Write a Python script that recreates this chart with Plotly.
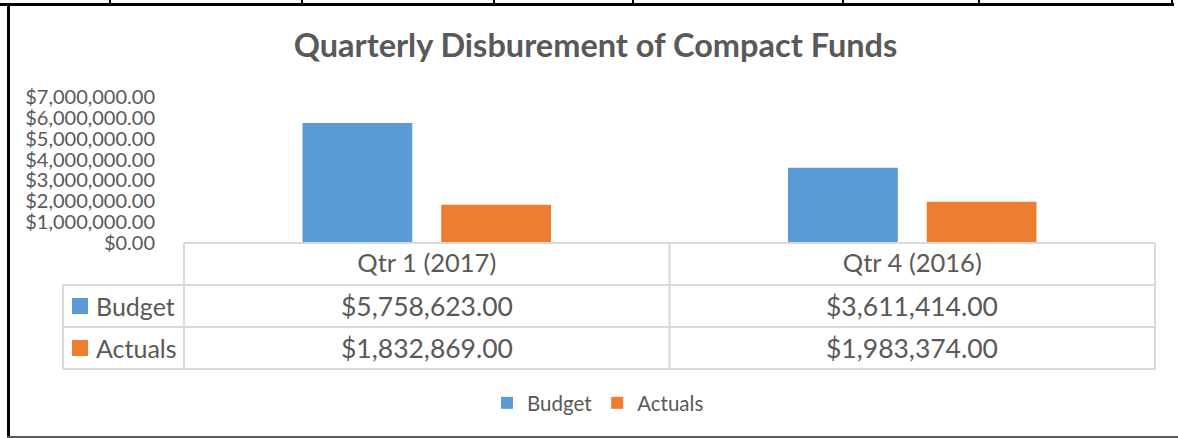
import plotly.graph_objects as go

W, H = 1178, 438

categories = ["Qtr 1 (2017)", "Qtr 4 (2016)"]
budget = [5758623.00, 3611414.00]
actuals = [1832869.00, 1983374.00]
series_names = ["Budget", "Actuals"]
colors = ["#5B9BD5", "#ED7D31"]
title_text = "Quarterly Disburement of Compact Funds"
y_max = 7000000
y_step = 1000000

TXT = "#595959"
GRID = "#D9D9D9"
FONT = "Lato"


def px(x):
    return x / W


def py(y):
    return 1 - y / H


fig = go.Figure()
for name, vals, col in zip(series_names, [budget, actuals], colors):
    fig.add_trace(go.Bar(x=categories, y=vals, name=name, marker_color=col,
                         marker_line_width=0, hoverinfo="x+y+name"))

shapes = []
annotations = []

# data table grid lines
line = dict(color=GRID, width=2)
for yy, x0 in [(243, None), (285, 63), (327, 63), (369, 63)]:
    if x0 is None:
        shapes.append(dict(type="line", xref="x", yref="paper", x0=-0.5, x1=1.5,
                           y0=py(yy), y1=py(yy), line=line))
    else:
        shapes.append(dict(type="line", xref="paper", yref="paper", x0=px(x0), x1=px(1156),
                           y0=py(yy), y1=py(yy), line=line))
shapes.append(dict(type="line", xref="paper", yref="paper", x0=px(63), x1=px(63),
                   y0=py(285), y1=py(369), line=line))
for xb in [-0.5, 0.5, 1.5]:
    shapes.append(dict(type="line", xref="x", yref="paper", x0=xb, x1=xb,
                       y0=py(243), y1=py(369), line=line))

# row labels with colour keys, and values
row_centers = [306, 348]
for name, vals, col, yc in zip(series_names, [budget, actuals], colors, row_centers):
    shapes.append(dict(type="rect", xref="paper", yref="paper", x0=px(72), x1=px(88),
                       y0=py(yc - 8), y1=py(yc + 8), fillcolor=col, line_width=0))
    annotations.append(dict(text=name, xref="paper", yref="paper", x=px(94), y=py(yc),
                            xanchor="left", yanchor="middle", showarrow=False,
                            font=dict(family=FONT, size=25, color=TXT)))
    for c, v in zip(categories, vals):
        annotations.append(dict(text="${:,.2f}".format(v), xref="x", yref="paper", x=c, y=py(yc),
                                xanchor="center", yanchor="middle", showarrow=False,
                                font=dict(family=FONT, size=26.5, color=TXT)))

# page frame (document table borders)
shapes.append(dict(type="rect", xref="paper", yref="paper", x0=0, x1=px(1174),
                   y0=py(6), y1=py(3), fillcolor="black", line_width=0))
for tx in [110, 302, 494, 633, 843, 979, 1172]:
    shapes.append(dict(type="rect", xref="paper", yref="paper", x0=px(tx - 1), x1=px(tx + 1),
                       y0=py(4), y1=py(0), fillcolor="black", line_width=0))
shapes.append(dict(type="rect", xref="paper", yref="paper", x0=px(7), x1=px(10),
                   y0=0, y1=py(3), fillcolor="black", line_width=0))
shapes.append(dict(type="rect", xref="paper", yref="paper", x0=px(7), x1=1,
                   y0=0, y1=py(436), fillcolor="#595959", line_width=0))

fig.update_layout(
    width=W, height=H, autosize=False,
    margin=dict(l=0, r=0, t=0, b=0, pad=0),
    paper_bgcolor="white", plot_bgcolor="white",
    barmode="group", bargap=0.4286, bargroupgap=0.2086,
    title=dict(text="<b>" + title_text + "</b>", x=px(595.5), xanchor="center",
               y=py(46), yanchor="middle", xref="paper", yref="paper", automargin=False,
               font=dict(family=FONT, size=32.5, color=TXT)),
    xaxis=dict(domain=[px(183), px(1156)], showline=False, showgrid=False, zeroline=False,
               ticks="", tickfont=dict(family=FONT, size=25.5, color=TXT), automargin=False,
               ticklabelstandoff=2, fixedrange=True),
    yaxis=dict(domain=[py(243), py(97)], range=[0, y_max], dtick=y_step, tick0=0,
               tickformat="$,.2f", showgrid=False, zeroline=False, showline=False,
               ticks="", tickfont=dict(family=FONT, size=20, color=TXT), automargin=False,
               ticklabelstandoff=27, fixedrange=True),
    legend=dict(orientation="h", x=px(598), xanchor="center", y=py(403), yanchor="middle",
                font=dict(family=FONT, size=20.5, color=TXT), itemwidth=30,
                bgcolor="rgba(0,0,0,0)"),
    shapes=shapes,
    annotations=annotations,
)

fig.write_html("out.html", config={"displayModeBar": False},
               post_script="document.body.style.margin='0px';")
